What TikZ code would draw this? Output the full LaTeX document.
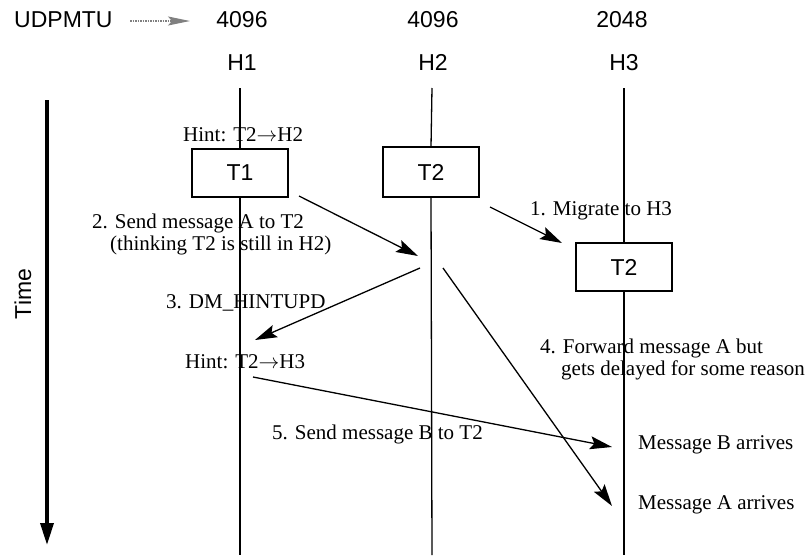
\documentclass[tikz,border=0pt]{standalone}
\usepackage{fontspec}
\setmainfont{Liberation Serif}
\newfontfamily\labelsans{Liberation Sans}
\usetikzlibrary{arrows.meta}

\begin{document}
\begin{tikzpicture}[x=1pt,y=-1pt,
  lifeline/.style={line width=1.3pt},
  msg/.style={line width=1.3pt,-{Stealth[length=22pt,width=13pt,inset=4pt]}},
  proc/.style={draw,line width=1.2pt,minimum width=96pt,minimum height=48pt,
    inner sep=0pt,outer sep=0pt,font=\labelsans\fontsize{23}{27}\selectfont},
  note/.style={anchor=base west,inner sep=0pt,font=\fontsize{21}{25}\selectfont},
  head/.style={anchor=base,inner sep=0pt,font=\labelsans\fontsize{23}{27}\selectfont},
]
\useasboundingbox (0,0) rectangle (812,555);

% header: path MTU per host and host names
\node[head,anchor=base west] (mtu) at (14,27) {UDPMTU};
\node[head] (m1) at (242,27) {4096};
\node[head] (m2) at (433,27) {4096};
\node[head] (m3) at (622,27) {2048};
\node[head] (h1) at (242,70) {H1};
\node[head] (h2) at (433,70) {H2};
\node[head] (h3) at (624,70) {H3};
\coordinate (mtus) at (130,21);
\coordinate (mtue) at (190,21);
\draw[gray,line width=1.5pt,dash pattern=on 1.5pt off 1pt,
  -{Stealth[length=22pt,width=9pt,inset=4pt]}] (mtus) -- (mtue);

% time axis
\coordinate (ts) at (47,100);
\coordinate (te) at (47,545);
\draw[line width=3.5pt,-{Triangle[length=22pt,width=13pt]}] (ts) -- (te);
\node[inner sep=0pt,rotate=90,font=\labelsans\fontsize{23}{27}\selectfont]
  (time) at (23,294) {Time};

% task boxes
\node[proc,minimum height=48pt] (t1) at (240,173) {T1};
\node[proc,minimum height=50pt] (t2a) at (431,172) {T2};
\node[proc] (t2b) at (624,267) {T2};

% lifelines
\coordinate (h1t) at (240,88);
\coordinate (h1b) at (240,555);
\coordinate (h2t) at (432,88);
\coordinate (h2b) at (432,555);
\coordinate (h3t) at (624,88);
\coordinate (h3b) at (624,555);
\draw[lifeline] (h1t) -- (t1.north);
\draw[lifeline] (t1.south) -- (h1b);
\draw[lifeline] (h2t) -- (t2a.north);
\draw[lifeline] (t2a.south) -- (h2b);
\draw[lifeline] (h3t) -- (t2b.north);
\draw[lifeline] (t2b.south) -- (h3b);

% labels
\node[note] (hint1) at (183,141) {Hint: T2\(\rightarrow\)H2};
\node[note] (l1) at (530,215) {1. Migrate to H3};
\node[note] (l2a) at (92,228) {2. Send message A to T2};
\node[note] (l2b) at (110,250) {(thinking T2 is still in H2)};
\node[note] (l3) at (166,308) {3. DM\_HINTUPD};
\node[note] (hint2) at (185,368) {Hint: T2\(\rightarrow\)H3};
\node[note] (l4a) at (540,353) {4. Forward message A but};
\node[note] (l4b) at (561,375) {gets delayed for some reason};
\node[note] (l5) at (272,439) {5. Send message B to T2};
\node[note] (rb) at (638,449) {Message B arrives};
\node[note] (ra) at (638,509) {Message A arrives};

% messages
\coordinate (a1s) at (490,207);
\coordinate (a1e) at (562,243);
\coordinate (a2s) at (299,196);
\coordinate (a2e) at (418,256);
\coordinate (a3s) at (420,268);
\coordinate (a3e) at (255,340);
\coordinate (a4s) at (443,268);
\coordinate (a4e) at (612,506);
\coordinate (a5s) at (253,377);
\coordinate (a5e) at (612,447);
\draw[msg] (a1s) -- (a1e);
\draw[msg] (a2s) -- (a2e);
\draw[msg] (a3s) -- (a3e);
\draw[msg] (a4s) -- (a4e);
\draw[msg] (a5s) -- (a5e);
\end{tikzpicture}
\end{document}
